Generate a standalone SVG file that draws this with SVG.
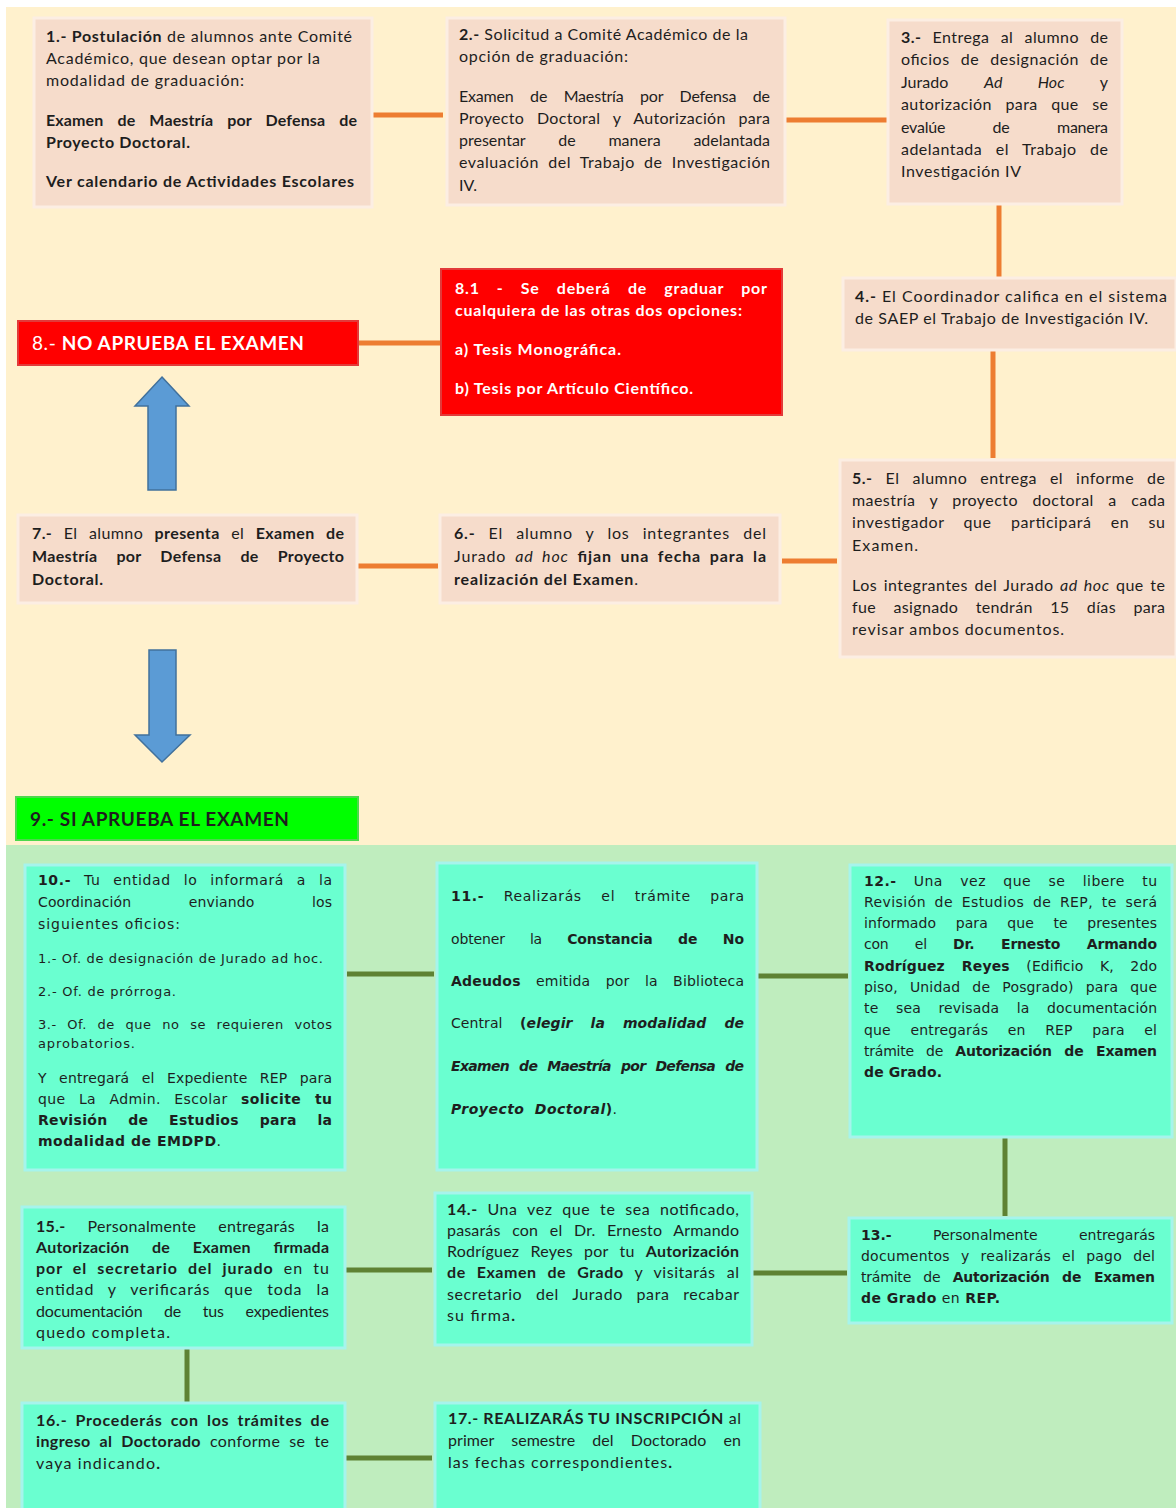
<svg xmlns="http://www.w3.org/2000/svg" width="1176" height="1508" viewBox="0 0 1176 1508">
<style>
.bt{fill:#F6DCCB;stroke:#FCEEE3;stroke-width:3}
.bg{fill:#6AFFD0;stroke:#A6F4EC;stroke-width:3}
.br{fill:#FF0000;stroke:#E23A3A;stroke-width:2}
.bgr{fill:#00FF00;stroke:#4CD84C;stroke-width:2}
text{font-family:Lato,"Open Sans",sans-serif;font-size:16px;fill:#1e1e1e}
.v{font-family:"DejaVu Sans",Verdana,sans-serif;font-size:14px}
.w{fill:#fff}
.b{font-weight:bold}
.i{font-style:italic}
.co{stroke:#ED7D31;stroke-width:5;fill:none}
.cg{stroke:#5E8233;stroke-width:5;fill:none}
.ar{fill:#5B9BD5;stroke:#41719C;stroke-width:1.5}
</style>
<rect x="0" y="0" width="1176" height="1508" fill="#fff"/>
<rect x="6" y="7" width="1170" height="838" fill="#FFF1CD"/>
<rect x="6" y="845" width="1170" height="663" fill="#BFEDBE"/>

<g id="connectors">
<line class="co" x1="372" y1="115" x2="443" y2="115"/>
<line class="co" x1="785" y1="120" x2="887" y2="120"/>
<line class="co" x1="999" y1="205" x2="999" y2="277"/>
<line class="co" x1="993" y1="350" x2="993" y2="458"/>
<line class="co" x1="782" y1="561" x2="837" y2="561"/>
<line class="co" x1="357" y1="566" x2="438" y2="566"/>
<line class="co" x1="358" y1="343" x2="440" y2="343"/>
<path class="ar" d="M162,377 L189,406 L176,406 L176,490 L148,490 L148,406 L135,406 Z"/>
<path class="ar" d="M149,650 L176,650 L176,735 L190,735 L162,762 L135,735 L149,735 Z"/>
<line class="cg" x1="347" y1="974" x2="434" y2="974"/>
<line class="cg" x1="757" y1="976" x2="848" y2="976"/>
<line class="cg" x1="1005" y1="1138" x2="1005" y2="1216"/>
<line class="cg" x1="752" y1="1273" x2="847" y2="1273"/>
<line class="cg" x1="345" y1="1270" x2="432" y2="1270"/>
<line class="cg" x1="187" y1="1348" x2="187" y2="1403"/>
<line class="cg" x1="345" y1="1458" x2="432" y2="1458"/>
</g>

<g id="node-1">
<rect class="bt" x="34" y="18" width="338" height="189"/>
<text x="46" y="42" textLength="306" lengthAdjust="spacing"><tspan class="b">1.- Postulación</tspan> de alumnos ante Comité</text>
<text x="46" y="64" textLength="274" lengthAdjust="spacing">Académico, que desean optar por la</text>
<text x="46" y="86" textLength="198" lengthAdjust="spacing">modalidad de graduación:</text>
<text class="b" x="46" y="126" style="word-spacing:10px" textLength="311" lengthAdjust="spacing">Examen de Maestría por Defensa de</text>
<text class="b" x="46" y="148" textLength="144" lengthAdjust="spacing">Proyecto Doctoral.</text>
<text class="b" x="46" y="187" textLength="308" lengthAdjust="spacing">Ver calendario de Actividades Escolares</text>
</g>

<g id="node-2">
<rect class="bt" x="447" y="18" width="338" height="187"/>
<text x="459" y="40" textLength="289" lengthAdjust="spacing"><tspan class="b">2.-</tspan> Solicitud a Comité Académico de la</text>
<text x="459" y="62" textLength="169" lengthAdjust="spacing">opción de graduación:</text>
<text x="459" y="102" style="word-spacing:12.6px" textLength="311" lengthAdjust="spacing">Examen de Maestría por Defensa de</text>
<text x="459" y="124" style="word-spacing:8.4px" textLength="311" lengthAdjust="spacing">Proyecto Doctoral y Autorización para</text>
<text x="459" y="146" style="word-spacing:28.7px" textLength="311" lengthAdjust="spacing">presentar de manera adelantada</text>
<text x="459" y="168" style="word-spacing:4.6px" textLength="311" lengthAdjust="spacing">evaluación del Trabajo de Investigación</text>
<text x="459" y="191">IV.</text>
</g>

<g id="node-3">
<rect class="bt" x="888" y="20" width="234" height="184"/>
<text x="901" y="43" style="word-spacing:6.7px" textLength="207" lengthAdjust="spacing"><tspan class="b">3.-</tspan> Entrega al alumno de</text>
<text x="901" y="65" style="word-spacing:6.5px" textLength="207" lengthAdjust="spacing">oficios de designación de</text>
<text x="901" y="88" style="word-spacing:31.5px" textLength="207" lengthAdjust="spacing">Jurado <tspan class="i">Ad Hoc</tspan> y</text>
<text x="901" y="110" style="word-spacing:9px" textLength="207" lengthAdjust="spacing">autorización para que se</text>
<text x="901" y="133" style="word-spacing:43.5px" textLength="207" lengthAdjust="spacing">evalúe de manera</text>
<text x="901" y="155" style="word-spacing:9px" textLength="207" lengthAdjust="spacing">adelantada el Trabajo de</text>
<text x="901" y="177" textLength="120" lengthAdjust="spacing">Investigación IV</text>
</g>

<g id="node-4">
<rect class="bt" x="843" y="278" width="333" height="72"/>
<text x="855" y="302" textLength="312" lengthAdjust="spacing"><tspan class="b">4.-</tspan> El Coordinador califica en el sistema</text>
<text x="855" y="324" textLength="293" lengthAdjust="spacing">de SAEP el Trabajo de Investigación IV.</text>
</g>

<g id="node-5">
<rect class="bt" x="840" y="460" width="336" height="197"/>
<text x="852" y="484" style="word-spacing:8.4px" textLength="313" lengthAdjust="spacing"><tspan class="b">5.-</tspan> El alumno entrega el informe de</text>
<text x="852" y="506" style="word-spacing:10px" textLength="313" lengthAdjust="spacing">maestría y proyecto doctoral a cada</text>
<text x="852" y="528" style="word-spacing:14.5px" textLength="313" lengthAdjust="spacing">investigador que participará en su</text>
<text x="852" y="551" textLength="66" lengthAdjust="spacing">Examen.</text>
<text x="852" y="591" style="word-spacing:1.9px" textLength="313" lengthAdjust="spacing">Los integrantes del Jurado <tspan class="i">ad hoc</tspan> que te</text>
<text x="852" y="613" style="word-spacing:13px" textLength="313" lengthAdjust="spacing">fue asignado tendrán 15 días para</text>
<text x="852" y="635" textLength="212" lengthAdjust="spacing">revisar ambos documentos.</text>
</g>

<g id="node-8">
<rect class="br" x="18" y="321" width="340" height="44"/>
<text class="w" x="32" y="350" style="font-size:19px" textLength="272" lengthAdjust="spacing">8.- <tspan class="b">NO APRUEBA EL EXAMEN</tspan></text>
</g>

<g id="node-8-1">
<rect class="br" x="441" y="269" width="341" height="146"/>
<text class="w b" x="455" y="294" style="word-spacing:12.5px" textLength="312" lengthAdjust="spacing">8.1 - Se deberá de graduar por</text>
<text class="w b" x="455" y="316" textLength="287" lengthAdjust="spacing">cualquiera de las otras dos opciones:</text>
<text class="w b" x="455" y="355" textLength="166" lengthAdjust="spacing">a) Tesis Monográfica.</text>
<text class="w b" x="455" y="394" textLength="238" lengthAdjust="spacing">b) Tesis por Artículo Científico.</text>
</g>

<g id="node-7">
<rect class="bt" x="18" y="515" width="339" height="88"/>
<text x="32" y="539" style="word-spacing:7px" textLength="312" lengthAdjust="spacing"><tspan class="b">7.-</tspan> El alumno <tspan class="b">presenta</tspan> el <tspan class="b">Examen de</tspan></text>
<text class="b" x="32" y="562" style="word-spacing:14.8px" textLength="312" lengthAdjust="spacing">Maestría por Defensa de Proyecto</text>
<text class="b" x="32" y="585" textLength="71" lengthAdjust="spacing">Doctoral.</text>
</g>

<g id="node-6">
<rect class="bt" x="440" y="515" width="340" height="88"/>
<text x="454" y="539" style="word-spacing:8.3px" textLength="312" lengthAdjust="spacing"><tspan class="b">6.-</tspan> El alumno y los integrantes del</text>
<text x="454" y="562" style="word-spacing:3.9px" textLength="312" lengthAdjust="spacing">Jurado <tspan class="i">ad hoc</tspan> <tspan class="b">fijan una fecha para la</tspan></text>
<text x="454" y="585" textLength="184" lengthAdjust="spacing"><tspan class="b">realización del Examen</tspan>.</text>
</g>

<g id="node-9">
<rect class="bgr" x="16" y="797" width="342" height="43"/>
<text class="b" x="30" y="826" style="font-size:19px" textLength="259" lengthAdjust="spacing">9.- SI APRUEBA EL EXAMEN</text>
</g>

<g id="node-10">
<rect class="bg" x="25" y="865" width="320" height="305"/>
<text class="v" x="38" y="885" style="word-spacing:7.8px" textLength="294" lengthAdjust="spacing"><tspan class="b">10.-</tspan> Tu entidad lo informará a la</text>
<text class="v" x="38" y="907" style="word-spacing:53px" textLength="294" lengthAdjust="spacing">Coordinación enviando los</text>
<text class="v" x="38" y="929" textLength="142" lengthAdjust="spacing">siguientes oficios:</text>
<text class="v" x="38" y="963" style="font-size:13px" textLength="285" lengthAdjust="spacing">1.- Of. de designación de Jurado ad hoc.</text>
<text class="v" x="38" y="996" style="font-size:13px" textLength="138" lengthAdjust="spacing">2.- Of. de prórroga.</text>
<text class="v" x="38" y="1029" style="font-size:13px;word-spacing:6px" textLength="294" lengthAdjust="spacing">3.- Of. de que no se requieren votos</text>
<text class="v" x="38" y="1048" style="font-size:13px" textLength="97" lengthAdjust="spacing">aprobatorios.</text>
<text class="v" x="38" y="1083" style="word-spacing:7.8px" textLength="294" lengthAdjust="spacing">Y entregará el Expediente REP para</text>
<text class="v" x="38" y="1104" style="word-spacing:8.4px" textLength="294" lengthAdjust="spacing">que La Admin. Escolar <tspan class="b">solicite tu</tspan></text>
<text class="v b" x="38" y="1125" style="word-spacing:15.5px" textLength="294" lengthAdjust="spacing">Revisión de Estudios para la</text>
<text class="v" x="38" y="1146" textLength="183" lengthAdjust="spacing"><tspan class="b">modalidad de EMDPD</tspan>.</text>
</g>

<g id="node-11">
<rect class="bg" x="437" y="863" width="320" height="307"/>
<text class="v" x="451" y="901" style="word-spacing:14.5px" textLength="293" lengthAdjust="spacing"><tspan class="b">11.-</tspan> Realizarás el trámite para</text>
<text class="v" x="451" y="944" style="word-spacing:20.8px" textLength="293" lengthAdjust="spacing">obtener la <tspan class="b">Constancia de No</tspan></text>
<text class="v" x="451" y="986" style="word-spacing:10.7px" textLength="293" lengthAdjust="spacing"><tspan class="b">Adeudos</tspan> emitida por la Biblioteca</text>
<text class="v" x="451" y="1028" style="word-spacing:13px" textLength="293" lengthAdjust="spacing">Central <tspan class="b">(</tspan><tspan class="b i">elegir la modalidad de</tspan></text>
<text class="v b i" x="451" y="1071" style="word-spacing:5.8px" textLength="293" lengthAdjust="spacing">Examen de Maestría por Defensa de</text>
<text class="v" x="451" y="1114" style="word-spacing:5px" textLength="166" lengthAdjust="spacing"><tspan class="b i">Proyecto Doctoral</tspan><tspan class="b">)</tspan>.</text>
</g>

<g id="node-12">
<rect class="bg" x="850" y="865" width="322" height="272"/>
<text class="v" x="864" y="886" style="word-spacing:12.5px" textLength="293" lengthAdjust="spacing"><tspan class="b">12.-</tspan> Una vez que se libere tu</text>
<text class="v" x="864" y="907" style="word-spacing:3.8px" textLength="293" lengthAdjust="spacing">Revisión de Estudios de REP, te será</text>
<text class="v" x="864" y="928" style="word-spacing:15px" textLength="293" lengthAdjust="spacing">informado para que te presentes</text>
<text class="v" x="864" y="949" style="word-spacing:22px" textLength="293" lengthAdjust="spacing">con el <tspan class="b">Dr. Ernesto Armando</tspan></text>
<text class="v" x="864" y="971" style="word-spacing:12px" textLength="293" lengthAdjust="spacing"><tspan class="b">Rodríguez Reyes</tspan> (Edificio K, 2do</text>
<text class="v" x="864" y="992" style="word-spacing:7.6px" textLength="293" lengthAdjust="spacing">piso, Unidad de Posgrado) para que</text>
<text class="v" x="864" y="1013" style="word-spacing:13px" textLength="293" lengthAdjust="spacing">te sea revisada la documentación</text>
<text class="v" x="864" y="1035" style="word-spacing:15px" textLength="293" lengthAdjust="spacing">que entregarás en REP para el</text>
<text class="v" x="864" y="1056" style="word-spacing:8px" textLength="293" lengthAdjust="spacing">trámite de <tspan class="b">Autorización de Examen</tspan></text>
<text class="v b" x="864" y="1077" textLength="78" lengthAdjust="spacing">de Grado.</text>
</g>

<g id="node-13">
<rect class="bg" x="849" y="1218" width="323" height="105"/>
<text class="v" x="861" y="1240" style="word-spacing:37px" textLength="294" lengthAdjust="spacing"><tspan class="b">13.-</tspan> Personalmente entregarás</text>
<text class="v" x="861" y="1261" style="word-spacing:6.4px" textLength="294" lengthAdjust="spacing">documentos y realizarás el pago del</text>
<text class="v" x="861" y="1282" style="word-spacing:8px" textLength="294" lengthAdjust="spacing">trámite de <tspan class="b">Autorización de Examen</tspan></text>
<text class="v" x="861" y="1303" textLength="139" lengthAdjust="spacing"><tspan class="b">de Grado</tspan> en <tspan class="b">REP.</tspan></text>
</g>

<g id="node-14">
<rect class="bg" x="435" y="1193" width="317" height="152"/>
<text x="447" y="1215" style="word-spacing:5px" textLength="292" lengthAdjust="spacing"><tspan class="b">14.-</tspan> Una vez que te sea notificado,</text>
<text x="447" y="1236" style="word-spacing:7.4px" textLength="292" lengthAdjust="spacing">pasarás con el Dr. Ernesto Armando</text>
<text x="447" y="1257" style="word-spacing:6.8px" textLength="292" lengthAdjust="spacing">Rodríguez Reyes por tu <tspan class="b">Autorización</tspan></text>
<text x="447" y="1278" style="word-spacing:6.5px" textLength="292" lengthAdjust="spacing"><tspan class="b">de Examen de Grado</tspan> y visitarás al</text>
<text x="447" y="1300" style="word-spacing:9px" textLength="292" lengthAdjust="spacing">secretario del Jurado para recabar</text>
<text x="447" y="1321" textLength="68" lengthAdjust="spacing">su firma<tspan class="b">.</tspan></text>
</g>

<g id="node-15">
<rect class="bg" x="22" y="1207" width="323" height="141"/>
<text x="36" y="1232" style="word-spacing:17.6px" textLength="293" lengthAdjust="spacing"><tspan class="b">15.-</tspan> Personalmente entregarás la</text>
<text class="b" x="36" y="1253" style="word-spacing:18.7px" textLength="293" lengthAdjust="spacing">Autorización de Examen firmada</text>
<text x="36" y="1274" style="word-spacing:5px" textLength="293" lengthAdjust="spacing"><tspan class="b">por el secretario del jurado</tspan> en tu</text>
<text x="36" y="1295" style="word-spacing:9px" textLength="293" lengthAdjust="spacing">entidad y verificarás que toda la</text>
<text x="36" y="1317" style="word-spacing:17.6px" textLength="293" lengthAdjust="spacing">documentación de tus expedientes</text>
<text x="36" y="1338" textLength="134" lengthAdjust="spacing">quedo completa.</text>
</g>

<g id="node-16">
<rect class="bg" x="22" y="1403" width="323" height="110"/>
<text class="b" x="36" y="1426" style="word-spacing:3.4px" textLength="293" lengthAdjust="spacing">16.- Procederás con los trámites de</text>
<text x="36" y="1447" style="word-spacing:4.6px" textLength="293" lengthAdjust="spacing"><tspan class="b">ingreso al Doctorado</tspan> conforme se te</text>
<text x="36" y="1469" textLength="124" lengthAdjust="spacing">vaya indicando<tspan class="b">.</tspan></text>
</g>

<g id="node-17">
<rect class="bg" x="435" y="1403" width="325" height="110"/>
<text x="448" y="1424" textLength="293" lengthAdjust="spacing"><tspan class="b">17.- REALIZARÁS TU INSCRIPCIÓN</tspan> al</text>
<text x="448" y="1446" style="word-spacing:13px" textLength="293" lengthAdjust="spacing">primer semestre del Doctorado en</text>
<text x="448" y="1468" textLength="224" lengthAdjust="spacing">las fechas correspondientes<tspan class="b">.</tspan></text>
</g>
</svg>
